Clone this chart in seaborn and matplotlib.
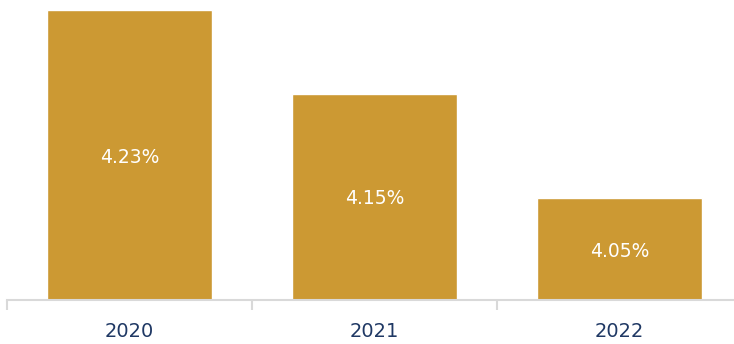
import matplotlib
matplotlib.use("Agg")
import matplotlib.pyplot as plt
import seaborn as sns
import pandas as pd

years = ["2020", "2021", "2022"]
rates = [4.23, 4.15, 4.05]
labels = ["4.23%", "4.15%", "4.05%"]

sns.set_theme(style="white")
plt.rcParams['font.family'] = ['DejaVu Sans']

df = pd.DataFrame({"year": years, "rate": rates})

fig = plt.figure(figsize=(7.34, 3.44), dpi=100)
ax = fig.add_axes([7/734, 44/344, 735/734, 300/344])
sns.barplot(data=df, x="year", y="rate", color="#CC9933", saturation=1, width=0.67, ax=ax)

ymin = 3.9523
ax.set_ylim(ymin, 4.2396)
ax.set_xlim(-0.5, 2.5)
for i, (v, lab) in enumerate(zip(rates, labels)):
    ax.text(i, (ymin + v) / 2 - 0.002, lab, ha="center", va="center", color="white", fontsize=13.5)

for s in ["top", "right", "left"]:
    ax.spines[s].set_visible(False)
ax.spines["bottom"].set_color("#D9D9D9")
ax.spines["bottom"].set_linewidth(1.5)
ax.set_yticks([])
ax.set_xlabel("")
ax.set_ylabel("")
ax.set_xticks([0, 1, 2])
ax.set_xticklabels(years, fontsize=14, color="#1F3864")
ax.tick_params(axis="x", which="major", length=0, pad=16)
ax.set_xticks([-0.5, 0.5, 1.5, 2.5], minor=True)
ax.tick_params(axis="x", which="minor", length=7, width=1.5, color="#D9D9D9", bottom=True)

fig.savefig("out.png", dpi=100)
